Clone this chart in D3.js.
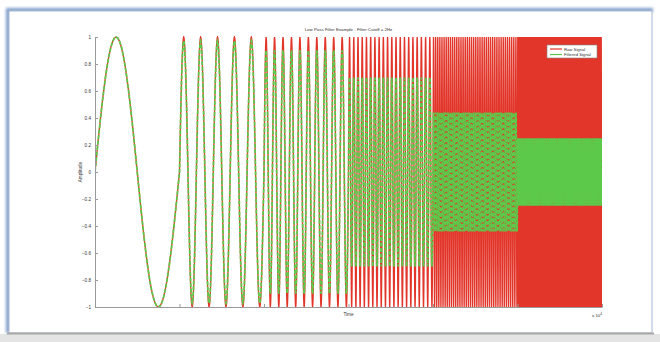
<!DOCTYPE html>
<html>
<head>
<meta charset="utf-8">
<script src="https://cdn.jsdelivr.net/npm/d3@7/dist/d3.min.js"></script>
<style>
  html, body { margin: 0; padding: 0; background: #ffffff; }
  svg { display: block; }
  text { font-family: "Liberation Sans", Arial, sans-serif; fill: #333; }
</style>
</head>
<body>
<svg id="chart" width="660" height="342"></svg>
<script>
// Test signal: one block per 10^4 time units, each block a sine with a fixed number of cycles
const segmentStarts = [0, 1, 2, 3, 4, 5];          // ×10^4
const segmentCycles = [1, 5, 10, 20, 40, 80];      // cycles inside each block
const rawAmplitude = [1, 1, 1, 1, 1, 1];
const filteredAmplitude = [1.0, 0.97, 0.9, 0.7, 0.44, 0.25];
const xTicks = [0, 1, 2, 3, 4, 5, 6];
const yTicks = [-1, -0.8, -0.6, -0.4, -0.2, 0, 0.2, 0.4, 0.6, 0.8, 1];
const seriesNames = ["Raw Signal", "Filtered Signal"];
const seriesColors = ["#e3362b", "#5cc94a"];
const titleText = "Low Pass Filter Example - Filter Cutoff = 2Hz";

const svg = d3.select("#chart");
const W = 660, H = 342;

// Window-like panel: blue glow on top/left, grey base
const defs = svg.append("defs");
const glow = defs.append("filter").attr("id", "glow")
  .attr("x", "-5%").attr("y", "-5%").attr("width", "110%").attr("height", "110%");
glow.append("feGaussianBlur").attr("stdDeviation", 1.8);

svg.append("rect").attr("x", 0).attr("y", 334).attr("width", W).attr("height", 8).attr("fill", "#e4e4e4");
svg.append("path")
  .attr("d", "M8,333 L8,10 L653,10")
  .attr("fill", "none").attr("stroke", "#7f9dca").attr("stroke-width", 4).attr("filter", "url(#glow)");
svg.append("path")
  .attr("d", "M653,10 L653,333")
  .attr("fill", "none").attr("stroke", "#b4c2d8").attr("stroke-width", 3).attr("filter", "url(#glow)");
svg.append("rect").attr("x", 9).attr("y", 11).attr("width", 643).attr("height", 322)
  .attr("fill", "#ffffff").attr("stroke", "#a6b8d4").attr("stroke-width", 1);
svg.append("line").attr("x1", 7).attr("x2", 654).attr("y1", 333.5).attr("y2", 333.5)
  .attr("stroke", "#a8a8a8").attr("stroke-width", 2);

// Axes geometry
const x = d3.scaleLinear().domain([0, 6]).range([95, 602]);
const y = d3.scaleLinear().domain([-1, 1]).range([307, 37]);

defs.append("clipPath").attr("id", "plotClip")
  .append("rect").attr("x", x(0)).attr("y", y(1) - 1)
  .attr("width", x(6) - x(0)).attr("height", y(-1) - y(1) + 2);

// Build the sampled curves block by block
const samplesPerCycle = 48;
function buildSeries(amps) {
  const pts = [];
  segmentStarts.forEach((s, i) => {
    const n = segmentCycles[i] * samplesPerCycle;
    for (let k = (i === 0 ? 0 : 1); k <= n; k++) {
      const u = k / n;
      pts.push([s + u, amps[i] * Math.sin(2 * Math.PI * segmentCycles[i] * u)]);
    }
  });
  return pts;
}
const rawPts = buildSeries(rawAmplitude);
const filtPts = buildSeries(filteredAmplitude);

const line = d3.line().x(d => x(d[0])).y(d => y(d[1]));
const plot = svg.append("g").attr("clip-path", "url(#plotClip)");
plot.append("path").datum(rawPts).attr("d", line)
  .attr("fill", "none").attr("stroke", seriesColors[0]).attr("stroke-width", 1.3);
plot.append("path").datum(filtPts).attr("d", line)
  .attr("fill", "none").attr("stroke", seriesColors[1]).attr("stroke-width", 1.8)
  .attr("stroke-dasharray", "4,1.5");

// Axes (left and bottom only, ticks pointing inward)
const axisColor = "#9a9a9a";
const yAxis = d3.axisLeft(y).tickValues(yTicks).tickSizeInner(-3).tickSizeOuter(0).tickPadding(4)
  .tickFormat(d => d3.format("")(Math.round(d * 10) / 10));
const gy = svg.append("g").attr("transform", `translate(${x(0)},0)`).call(yAxis);
gy.select(".domain").attr("stroke", axisColor);
gy.selectAll(".tick line").attr("stroke", axisColor);
gy.selectAll(".tick text").attr("font-size", 4.6).attr("fill", "#444");

const xAxis = d3.axisBottom(x).tickValues(xTicks).tickSizeInner(-3).tickSizeOuter(0).tickFormat("");
const gx = svg.append("g").attr("transform", `translate(0,${y(-1)})`).call(xAxis);
gx.select(".domain").attr("stroke", axisColor);
gx.selectAll(".tick line").attr("stroke", axisColor);

// Labels
svg.append("text").attr("x", (x(0) + x(6)) / 2).attr("y", 31).attr("text-anchor", "middle")
  .attr("font-size", 4.4).text(titleText);
svg.append("text").attr("x", x(3)).attr("y", 316).attr("text-anchor", "middle")
  .attr("font-size", 4.6).text("Time");
const sci = svg.append("text").attr("x", 592).attr("y", 317).attr("font-size", 4.4);
sci.append("tspan").text("x 10");
sci.append("tspan").attr("dy", -2).attr("font-size", 3.2).text("4");
svg.append("text").attr("transform", `translate(82,${y(0)}) rotate(-90)`)
  .attr("text-anchor", "middle").attr("font-size", 4.6).text("Amplitude");

// Legend
const lg = svg.append("g").attr("transform", "translate(547,45)");
lg.append("rect").attr("width", 50).attr("height", 13).attr("fill", "#fff")
  .attr("stroke", "#888").attr("stroke-width", 0.6);
seriesNames.forEach((name, i) => {
  const yy = 4 + i * 5.5;
  lg.append("line").attr("x1", 3).attr("x2", 15).attr("y1", yy).attr("y2", yy)
    .attr("stroke", seriesColors[i]).attr("stroke-width", 1.2);
  lg.append("text").attr("x", 17).attr("y", yy + 1.5).attr("font-size", 4.2).text(name);
});
</script>
</body>
</html>
